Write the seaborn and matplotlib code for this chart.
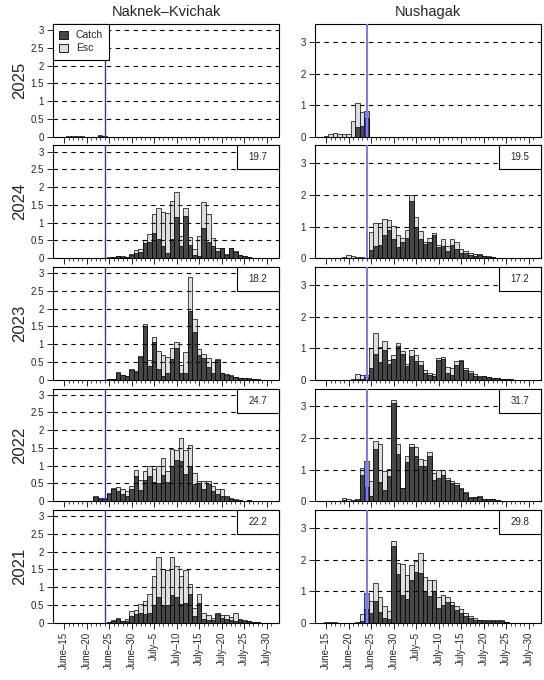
import matplotlib
matplotlib.use('Agg')
import matplotlib.pyplot as plt
from matplotlib.patches import Patch, Rectangle
import numpy as np
import pandas as pd
import seaborn as sns

# days are counted from June 15 (day 0); today = June 24
years = [2025, 2024, 2023, 2022, 2021]
rivers = ["Naknek\u2013Kvichak", "Nushagak"]
tick_days = list(range(0, 46, 5))
tick_labels = ["June\u201315", "June\u201320", "June\u201325", "June\u201330",
               "July\u20135", "July\u201310", "July\u201315", "July\u201320",
               "July\u201325", "July\u201330"]
today = 9

# Naknek-Kvichak daily catch / escapement (millions)
nk_2025_start = 1
nk_2025_catch = [0, 0, 0, 0, 0, 0, 0, 0.03, 0]
nk_2025_esc = [0.01, 0.01, 0.01, 0.01, 0, 0, 0, 0.01, 0.01]

nk_2024_start = 10
nk_2024_catch = [0.01, 0.02, 0.05, 0.04, 0.02, 0.10, 0.15, 0.17, 0.42, 0.45, 0.70,
                 0.55, 0.33, 0.15, 0.55, 1.15, 0.33, 1.20, 0.37, 0.10, 0.07, 0.85,
                 0.45, 0.35, 0.20, 0.28, 0.10, 0.28, 0.18, 0.08, 0.05, 0.02]
nk_2024_esc = [0.01, 0.01, 0, 0.01, 0, 0.02, 0.07, 0.08, 0.08, 0.23, 0.55,
               0.85, 0.97, 1.12, 1.05, 0.70, 0.29, 0.20, 0.23, 0.17, 0.55, 0.72,
               0.78, 0.23, 0.10, 0.02, 0.02, 0.02, 0.02, 0.02, 0, 0]

nk_2023_start = 10
nk_2023_catch = [0.02, 0.03, 0.20, 0.12, 0.10, 0.28, 0.22, 0.65, 1.50, 0.38, 1.05,
                 0.30, 0.10, 0.20, 0.58, 0.90, 0.20, 0.20, 1.92, 1.35, 0.70, 0.60,
                 0.35, 0.20, 0.55, 0.18, 0.13, 0.10, 0.07, 0.05, 0.04, 0.03, 0.02, 0.01]
nk_2023_esc = [0, 0, 0.02, 0.01, 0, 0.02, 0.03, 0.02, 0.08, 0.17, 0.15,
               0.52, 0.60, 0.45, 0.30, 0.15, 0.20, 0.57, 0.96, 0.37, 0.15, 0.12,
               0.27, 0.30, 0.03, 0.02, 0.02, 0.02, 0.01, 0.01, 0.01, 0.01, 0, 0]

nk_2022_start = 7
nk_2022_catch = [0.12, 0.07, 0.05, 0.20, 0.33, 0.30, 0.20, 0.15, 0.35, 0.72, 0.32,
                 0.60, 0.70, 0.55, 0.52, 0.75, 0.55, 1.00, 1.15, 1.12, 0.77, 1.00,
                 0.48, 0.50, 0.35, 0.48, 0.30, 0.20, 0.15, 0.13, 0.07, 0.04, 0.02,
                 0.01, 0.03, 0.01]
nk_2022_esc = [0.02, 0.03, 0.05, 0.02, 0.05, 0.10, 0.13, 0.13, 0.07, 0.16, 0.28,
               0.25, 0.30, 0.35, 0.48, 0.47, 0.30, 0.48, 0.30, 0.66, 0.68, 0.58,
               0.32, 0.08, 0.22, 0.10, 0.12, 0.15, 0.18, 0.02, 0.01, 0.01, 0,
               0, 0, 0]

nk_2021_start = 10
nk_2021_catch = [0.02, 0.05, 0.10, 0.05, 0.05, 0.20, 0.25, 0.28, 0.25, 0.28, 0.50,
                 0.72, 0.48, 0.50, 0.78, 0.72, 0.52, 0.55, 0.80, 0.20, 0.55, 0.10,
                 0.08, 0.08, 0.25, 0.12, 0.10, 0.08, 0.05, 0.07, 0.06, 0.04, 0.03, 0.01]
nk_2021_esc = [0, 0.03, 0.02, 0, 0.05, 0.12, 0.12, 0.24, 0.37, 0.54, 0.80,
               1.13, 1.02, 0.98, 1.07, 0.88, 0.80, 0.93, 0.30, 0.20, 0.27, 0.18,
               0.14, 0.04, 0.03, 0.11, 0.12, 0.07, 0.22, 0.03, 0.01, 0.01, 0, 0]

# Nushagak daily catch / escapement (millions)
nu_2025_start = 0
nu_2025_catch = [0, 0, 0, 0, 0, 0, 0, 0.30, 0.35, 0.59]
nu_2025_esc = [0.03, 0.08, 0.12, 0.08, 0.08, 0.08, 0.50, 0.77, 0.42, 0.23]

nu_2024_start = 4
nu_2024_catch = [0.02, 0.02, 0.02, 0.02, 0.02, 0.02, 0.25, 0.40, 0.42, 0.72, 0.90,
                 0.60, 0.35, 0.50, 0.65, 1.80, 1.00, 0.60, 0.45, 0.50, 0.72, 0.35,
                 0.40, 0.22, 0.42, 0.30, 0.18, 0.15, 0.10, 0.08, 0.10, 0.06, 0.05,
                 0.03, 0.02, 0.01]
nu_2024_esc = [0.03, 0.08, 0.04, 0.02, 0.01, 0, 0.57, 0.73, 0.71, 0.53, 0.30,
               0.42, 0.37, 0.15, 0.23, 0.20, 0.30, 0.25, 0.05, 0.15, 0.08, 0.07,
               0.22, 0.16, 0.18, 0.20, 0.10, 0.07, 0.07, 0.04, 0.02, 0.02, 0.01,
               0, 0, 0]

nu_2023_start = 6
nu_2023_catch = [0, 0.02, 0.01, 0.10, 0.38, 0.80, 0.55, 0.95, 0.50, 0.65, 1.08,
                 0.82, 0.42, 0.75, 0.60, 0.45, 0.20, 0.15, 0.12, 0.62, 0.65, 0.20,
                 0.15, 0.48, 0.60, 0.30, 0.20, 0.12, 0.10, 0.11, 0.07, 0.05, 0.04,
                 0.03, 0.02, 0.01]
nu_2023_esc = [0.02, 0.16, 0.14, 0.05, 0.62, 0.68, 0.50, 0.27, 0.12, 0.13, 0.07,
               0.08, 0.08, 0.18, 0.18, 0.15, 0.10, 0.05, 0.06, 0.08, 0.07, 0.20,
               0.23, 0.10, 0.02, 0.08, 0.08, 0.06, 0.02, 0.02, 0.01, 0.01, 0.01,
               0, 0, 0]

nu_2022_start = 3
nu_2022_catch = [0, 0.03, 0.02, 0.02, 0.04, 0.82, 0.45, 0.18, 1.65, 0.60, 0.35,
                 0.80, 3.10, 1.50, 0.42, 1.25, 1.72, 1.42, 1.12, 1.10, 1.42, 0.68,
                 0.75, 0.82, 0.68, 0.58, 0.50, 0.38, 0.25, 0.10, 0.12, 0.12, 0.06,
                 0.06, 0.07, 0.04, 0.02, 0.01]
nu_2022_esc = [0.02, 0.07, 0.06, 0.03, 0.03, 0.23, 0.82, 0.45, 0.27, 1.22, 0.60,
               0.22, 0.12, 0.30, 0, 0.18, 0.08, 0.30, 0.23, 0.20, 0.13, 0.22,
               0.23, 0.18, 0.07, 0.07, 0.08, 0.04, 0.03, 0.02, 0.01, 0.03, 0.02,
               0.02, 0.01, 0, 0, 0]

nu_2021_start = 0
nu_2021_catch = [0, 0, 0, 0, 0, 0, 0, 0, 0.05, 0.42, 0.30, 0.70, 0.35, 0.15, 0.12,
                 2.42, 1.55, 0.88, 0.75, 1.35, 1.60, 1.58, 1.00, 0.85, 1.00, 0.45,
                 0.55, 0.65, 0.55, 0.40, 0.30, 0.22, 0.15, 0.10, 0.08, 0.05, 0.06,
                 0.06, 0.06, 0.06, 0.02]
nu_2021_esc = [0.01, 0.02, 0.02, 0, 0, 0, 0, 0.01, 0.23, 0.53, 0.40, 0.57, 0.47, 0.37, 0.26,
               0.16, 0.35, 0.97, 0.77, 0.47, 0.35, 0.62, 0.45, 0.50, 0.35, 0.37,
               0.33, 0.17, 0.10, 0.12, 0.12, 0.08, 0.05, 0.05, 0.02, 0.02, 0.01,
               0.01, 0.01, 0.01, 0]

# season totals shown in the corner boxes
nk_totals = [None, "19.7", "18.2", "24.7", "22.2"]
nu_totals = [None, "19.5", "17.2", "31.7", "29.8"]

panels = {
    ("nk", 2025): (nk_2025_start, nk_2025_catch, nk_2025_esc),
    ("nk", 2024): (nk_2024_start, nk_2024_catch, nk_2024_esc),
    ("nk", 2023): (nk_2023_start, nk_2023_catch, nk_2023_esc),
    ("nk", 2022): (nk_2022_start, nk_2022_catch, nk_2022_esc),
    ("nk", 2021): (nk_2021_start, nk_2021_catch, nk_2021_esc),
    ("nu", 2025): (nu_2025_start, nu_2025_catch, nu_2025_esc),
    ("nu", 2024): (nu_2024_start, nu_2024_catch, nu_2024_esc),
    ("nu", 2023): (nu_2023_start, nu_2023_catch, nu_2023_esc),
    ("nu", 2022): (nu_2022_start, nu_2022_catch, nu_2022_esc),
    ("nu", 2021): (nu_2021_start, nu_2021_catch, nu_2021_esc),
}

CATCH_COL = "#474747"
ESC_COL = "#dedede"

sns.set_style("ticks")
plt.rcParams['font.family'] = ['Liberation Sans', 'DejaVu Sans']


def draw_panel(ax, start, catch, esc, line_col, line_w):
    df = pd.DataFrame({
        "day": np.arange(start, start + len(catch)),
        "Catch": catch,
        "Esc": esc,
    })
    df["total"] = df["Catch"] + df["Esc"]

    sns.barplot(data=df, x="day", y="total", native_scale=True, color=ESC_COL,
                saturation=1, width=1, edgecolor="black", linewidth=0.5,
                errorbar=None, ax=ax, zorder=2)
    sns.barplot(data=df, x="day", y="Catch", native_scale=True, color=CATCH_COL,
                saturation=1, width=1, edgecolor="black", linewidth=0.5,
                errorbar=None, ax=ax, zorder=2)

    # highlight the current day
    hl = df[df["day"] == today]
    if len(hl):
        ax.bar(hl["day"], hl["total"], width=1, color=(0.1, 0.1, 1.0, 0.42),
               linewidth=0, zorder=2.5)
    ax.axvline(today, color=line_col, lw=line_w, zorder=4)


fig = plt.figure(figsize=(5.44, 6.8), dpi=100)
W, H = 544, 680
tops = [24, 145.5, 267, 388.5, 510]
ph = 112.7

for r, yr in enumerate(years):
    for c, key in enumerate(["nk", "nu"]):
        x0 = 53 if c == 0 else 315
        ax = fig.add_axes([x0 / W, 1 - (tops[r] + ph) / H, 226 / W, ph / H])
        start, catch, esc = panels[(key, yr)]
        if c == 0:
            draw_panel(ax, start, catch, esc, "#3535aa", 1.0)
            ymax, yt = 3.17, [0, 0.5, 1, 1.5, 2, 2.5, 3]
            ylab = ["0", "0.5", "1", "1.5", "2", "2.5", "3"]
        else:
            draw_panel(ax, start, catch, esc, "#7f7fdc", 1.5)
            ymax, yt = 3.57, [0, 1, 2, 3]
            ylab = ["0", "1", "2", "3"]

        for v in yt[1:]:
            ax.axhline(v, color="black", lw=0.8, ls=(0, (4, 4)), zorder=3)

        ax.set_xlim(-2.45, 47.7)
        ax.set_ylim(0, ymax)
        ax.set_yticks(yt)
        ax.set_yticklabels(ylab)
        ax.set_xticks(tick_days)
        ax.set_xticks(range(0, 47), minor=True)
        if r == len(years) - 1:
            ax.set_xticklabels(tick_labels, rotation=90)
        else:
            ax.set_xticklabels([])
        ax.set_xlabel("")
        ax.set_ylabel("")
        ax.tick_params(axis="both", which="major", direction="out", length=4.5,
                       width=0.6, labelsize=7, color="black", pad=2)
        ax.tick_params(axis="x", which="minor", direction="out", length=2.5,
                       width=0.5, color="black")
        for s in ax.spines.values():
            s.set_visible(True)
            s.set_color("black")
            s.set_linewidth(0.8)

        tot = (nk_totals if c == 0 else nu_totals)[r]
        if tot is not None:
            bw, bh = 42 / 226, 24 / ph
            ax.add_patch(Rectangle((1 - bw, 1 - bh), bw, bh, transform=ax.transAxes,
                                   facecolor="white", edgecolor="black", lw=0.8,
                                   zorder=5, clip_on=False))
            ax.text(1 - bw / 2, 1 - bh / 2, tot, transform=ax.transAxes,
                    ha="center", va="center", fontsize=7, zorder=6)

        if r == 0:
            ax.set_title(rivers[c], fontsize=10.5, pad=6)
            if c == 0:
                handles = [Patch(facecolor=CATCH_COL, edgecolor="black", lw=0.6, label="Catch"),
                           Patch(facecolor=ESC_COL, edgecolor="black", lw=0.6, label="Esc")]
                leg = ax.legend(handles=handles, loc="upper left", fontsize=7.5,
                                frameon=True, fancybox=False, framealpha=1,
                                edgecolor="black", borderaxespad=0, borderpad=0.6,
                                handlelength=0.8, handleheight=0.8,
                                handletextpad=0.8, labelspacing=0.3)
                leg.get_frame().set_linewidth(0.8)
                leg.set_zorder(6)

    fig.text(20 / W, 1 - (tops[r] + ph / 2) / H, str(yr), rotation=90,
             ha="center", va="center", fontsize=12)

plt.savefig("out.png", dpi=100)
